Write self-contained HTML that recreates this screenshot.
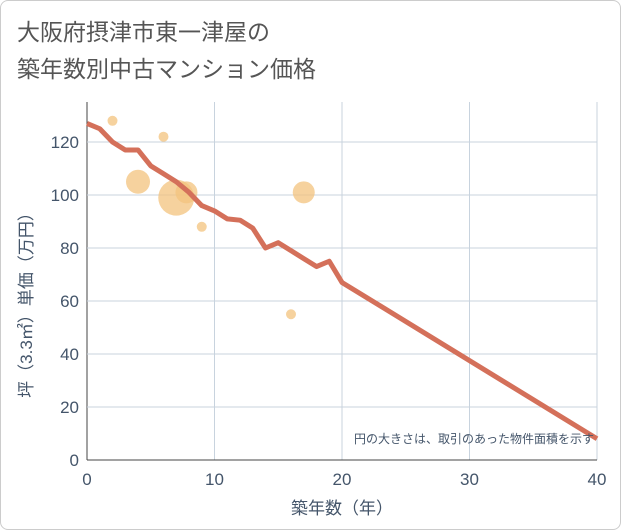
<!DOCTYPE html>
<html><head><meta charset="utf-8"><style>
body{margin:0;background:#fff;font-family:"Liberation Sans","Noto Sans CJK JP",sans-serif;}
.frame{position:absolute;left:0;top:0;width:619px;height:528px;border:1px solid #ccc;border-radius:8px;background:#fff;}
</style></head><body>
<div class="frame"></div>
<svg width="621" height="530" style="position:absolute;left:0;top:0">
<text x="17" y="40" font-size="23" fill="#555">大阪府摂津市東一津屋の</text>
<text x="17" y="77" font-size="23" fill="#555">築年数別中古マンション価格</text>
<g id="grid"></g>
<g id="bubbles"></g>
<path id="line" fill="none" stroke="#d4705a" stroke-width="5" stroke-linejoin="round"/>
<g id="ticks"></g>
<text x="342" y="514" font-size="17" fill="#44556a" text-anchor="middle">築年数（年）</text>
<text transform="translate(32,301) rotate(-90)" font-size="17" fill="#44556a" text-anchor="middle">坪（3.3㎡）単価（万円）</text>
<text x="594" y="443" font-size="12" fill="#44556a" text-anchor="end">円の大きさは、取引のあった物件面積を示す</text>
</svg>
<script>
const xTicks=[0,10,20,30,40];
const yTicks=[0,20,40,60,80,100,120];
const lineX=[0,1,2,3,4,5,6,7,8,9,10,11,12,13,14,15,16,17,18,19,20,40];
const lineY=[127,125,120,117,117,111,108,105,101,96,94,91,90.5,87.5,80,82,79,76,73,75,67,8];
const bubX=[2,6,4,7,7.8,9,17,16];
const bubY=[128,122,105,99,101,88,101,55];
const bubR=[5,5,12,18,11,5,11,5];
const X=v=>87+v*12.75, Y=v=>460-v*2.65;
const ns="http://www.w3.org/2000/svg";
const g=document.getElementById('grid'),t=document.getElementById('ticks'),b=document.getElementById('bubbles');
function mk(tag,attrs,parent){const e=document.createElementNS(ns,tag);for(const k in attrs)e.setAttribute(k,attrs[k]);parent.appendChild(e);return e;}
xTicks.forEach(v=>{
 const l=mk('line',{x1:X(v),x2:X(v),y1:102,y2:460,stroke:v===0?'#444':'#c8d3de','stroke-width':1},g);
 
 
 const tx=mk('text',{x:X(v),y:485,'font-size':17,fill:'#44556a','text-anchor':'middle'},t);tx.textContent=v;
 
 
});
yTicks.forEach(v=>{
 const l=mk('line',{x1:87,x2:597,y1:Y(v),y2:Y(v),stroke:v===0?'#444':'#c8d3de','stroke-width':1},g);
 
 
 const tx=mk('text',{x:79,y:Y(v)+6,'font-size':17,fill:'#44556a','text-anchor':'end'},t);tx.textContent=v;
 
 
});
bubX.forEach((v,i)=>{
 const c=mk('circle',{cx:X(v),cy:Y(bubY[i]),r:bubR[i],fill:'#f3c37e','fill-opacity':0.75},b);
 
 
});
document.getElementById('line').setAttribute('d',lineX.map((v,i)=>(i?'L':'M')+X(v)+','+Y(lineY[i])).join(''));
</script>
</body></html>
